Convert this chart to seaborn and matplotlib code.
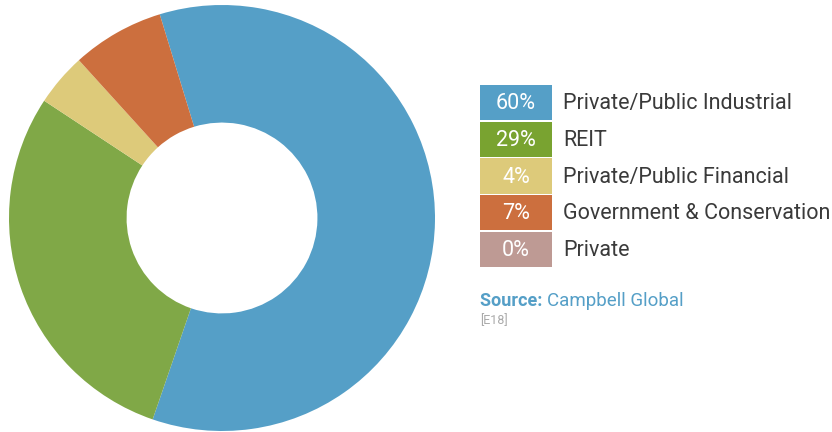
import matplotlib
matplotlib.use("Agg")
import matplotlib.pyplot as plt
import seaborn as sns
from matplotlib.patches import Rectangle

# Ownership breakdown
categories = ["Private/Public Industrial", "REIT", "Private/Public Financial",
              "Government & Conservation", "Private"]
shares = [60, 29, 4, 7, 0]
pie_colors = ["#559FC7", "#80A847", "#DDCA7A", "#CC6F3E", "#BE9A94"]
key_colors = ["#559FC7", "#79A330", "#DDCA7A", "#CC6F3E", "#BE9A94"]
source_label = "Source:"
source_name = "Campbell Global"
ref_code = "[E18]"

sns.set_theme(style="white")
plt.rcParams["font.family"] = ["Roboto", "DejaVu Sans"]

W, H = 832, 432
fig = plt.figure(figsize=(W / 100, H / 100), dpi=100)

# Donut
cx, cy, r = 222, 218, 213
ax = fig.add_axes([(cx - r) / W, (H - cy - r) / H, 2 * r / W, 2 * r / H])
ax.pie(shares, colors=pie_colors, startangle=107, counterclock=False,
       radius=1.0, wedgeprops=dict(width=0.552, linewidth=0))
ax.set_xlim(-1, 1)
ax.set_ylim(-1, 1)
ax.set_aspect("equal")
ax.axis("off")

# Key and source, laid out in pixel coordinates
ov = fig.add_axes([0, 0, 1, 1])
ov.set_xlim(0, W)
ov.set_ylim(H, 0)
ov.axis("off")

x0, bw = 480, 72
top, pitch, bh = 85, 36.7, 35.3
for i, (cat, val, col) in enumerate(zip(categories, shares, key_colors)):
    y = top + i * pitch
    ov.add_patch(Rectangle((x0, y), bw, bh, facecolor=col, edgecolor="none"))
    ov.text(x0 + bw / 2, y + bh / 2 + 1, f"{val}%", color="white",
            fontsize=15.5, ha="center", va="center")
    ov.text(563, y + bh / 2 + 1, cat, color="#3a3a3a", fontsize=15.5,
            ha="left", va="center")

src = ov.text(480, 301, source_label + " ", color="#559FC7", fontsize=13,
              fontweight="bold", ha="left", va="center")
fig.canvas.draw()
bb = src.get_window_extent()
ov.text(bb.x1, 301, source_name, color="#559FC7", fontsize=13.5,
        ha="left", va="center")
ov.text(480, 321, ref_code, color="#aaaaaa", fontsize=9,
        ha="left", va="center")

fig.savefig("out.png", dpi=100, facecolor="white")
